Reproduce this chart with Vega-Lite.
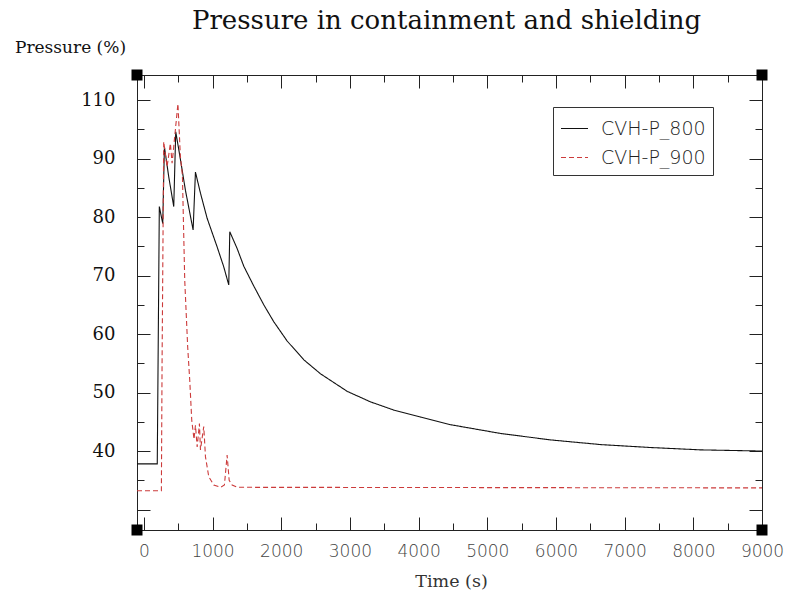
{
  "$schema": "https://vega.github.io/schema/vega-lite/v6.json",
  "width": 625,
  "height": 455,
  "autosize": "none",
  "padding": {"left": 137, "top": 75, "right": 25, "bottom": 64},
  "background": "white",
  "title": {
    "text": "Pressure in containment and shielding",
    "font": "DejaVu Serif",
    "fontSize": 26,
    "fontWeight": "normal",
    "color": "#111111",
    "anchor": "middle",
    "dx": -3,
    "offset": 4
  },
  "datasets": {
    "curves": [
      {"series": "CVH-P_800", "t": -100, "p": 37.8},
      {"series": "CVH-P_800", "t": 195, "p": 37.8},
      {"series": "CVH-P_800", "t": 225, "p": 81.8},
      {"series": "CVH-P_800", "t": 275, "p": 78.9},
      {"series": "CVH-P_800", "t": 299, "p": 92.0},
      {"series": "CVH-P_800", "t": 362, "p": 86.9},
      {"series": "CVH-P_800", "t": 435, "p": 81.8},
      {"series": "CVH-P_800", "t": 464, "p": 94.6},
      {"series": "CVH-P_800", "t": 522, "p": 90.6},
      {"series": "CVH-P_800", "t": 605, "p": 84.6},
      {"series": "CVH-P_800", "t": 717, "p": 77.8},
      {"series": "CVH-P_800", "t": 751, "p": 87.7},
      {"series": "CVH-P_800", "t": 824, "p": 84.1},
      {"series": "CVH-P_800", "t": 921, "p": 79.8},
      {"series": "CVH-P_800", "t": 1067, "p": 74.9},
      {"series": "CVH-P_800", "t": 1163, "p": 71.5},
      {"series": "CVH-P_800", "t": 1236, "p": 68.4},
      {"series": "CVH-P_800", "t": 1251, "p": 77.5},
      {"series": "CVH-P_800", "t": 1359, "p": 74.6},
      {"series": "CVH-P_800", "t": 1455, "p": 71.6},
      {"series": "CVH-P_800", "t": 1601, "p": 68.2},
      {"series": "CVH-P_800", "t": 1746, "p": 65.0},
      {"series": "CVH-P_800", "t": 1892, "p": 62.1},
      {"series": "CVH-P_800", "t": 2087, "p": 58.8},
      {"series": "CVH-P_800", "t": 2329, "p": 55.6},
      {"series": "CVH-P_800", "t": 2573, "p": 53.2},
      {"series": "CVH-P_800", "t": 2962, "p": 50.2},
      {"series": "CVH-P_800", "t": 3302, "p": 48.4},
      {"series": "CVH-P_800", "t": 3641, "p": 47.0},
      {"series": "CVH-P_800", "t": 4031, "p": 45.8},
      {"series": "CVH-P_800", "t": 4468, "p": 44.5},
      {"series": "CVH-P_800", "t": 5197, "p": 43.0},
      {"series": "CVH-P_800", "t": 5926, "p": 41.9},
      {"series": "CVH-P_800", "t": 6655, "p": 41.1},
      {"series": "CVH-P_800", "t": 7383, "p": 40.6},
      {"series": "CVH-P_800", "t": 8112, "p": 40.2},
      {"series": "CVH-P_800", "t": 9000, "p": 40.0},
      {"series": "CVH-P_900", "t": -100, "p": 33.2},
      {"series": "CVH-P_900", "t": 255, "p": 33.2},
      {"series": "CVH-P_900", "t": 265, "p": 55.0},
      {"series": "CVH-P_900", "t": 289, "p": 92.9},
      {"series": "CVH-P_900", "t": 338, "p": 88.6},
      {"series": "CVH-P_900", "t": 386, "p": 92.6},
      {"series": "CVH-P_900", "t": 411, "p": 89.2},
      {"series": "CVH-P_900", "t": 496, "p": 99.4},
      {"series": "CVH-P_900", "t": 532, "p": 90.3},
      {"series": "CVH-P_900", "t": 561, "p": 87.2},
      {"series": "CVH-P_900", "t": 595, "p": 69.2},
      {"series": "CVH-P_900", "t": 638, "p": 57.8},
      {"series": "CVH-P_900", "t": 668, "p": 52.1},
      {"series": "CVH-P_900", "t": 697, "p": 45.3},
      {"series": "CVH-P_900", "t": 730, "p": 42.0},
      {"series": "CVH-P_900", "t": 751, "p": 44.4},
      {"series": "CVH-P_900", "t": 776, "p": 40.7},
      {"series": "CVH-P_900", "t": 809, "p": 44.7},
      {"series": "CVH-P_900", "t": 824, "p": 40.2},
      {"series": "CVH-P_900", "t": 872, "p": 44.2},
      {"series": "CVH-P_900", "t": 897, "p": 39.0},
      {"series": "CVH-P_900", "t": 945, "p": 35.6},
      {"series": "CVH-P_900", "t": 1017, "p": 34.2},
      {"series": "CVH-P_900", "t": 1115, "p": 33.8},
      {"series": "CVH-P_900", "t": 1173, "p": 34.2},
      {"series": "CVH-P_900", "t": 1212, "p": 39.3},
      {"series": "CVH-P_900", "t": 1242, "p": 35.0},
      {"series": "CVH-P_900", "t": 1285, "p": 34.2},
      {"series": "CVH-P_900", "t": 1359, "p": 33.8},
      {"series": "CVH-P_900", "t": 9000, "p": 33.7}
    ],
    "corners": [
      {"t": -100, "p": 26.5},
      {"t": 9000, "p": 26.5},
      {"t": -100, "p": 104.3},
      {"t": 9000, "p": 104.3}
    ]
  },
  "layer": [
    {
      "data": {"name": "curves"},
      "mark": {"type": "line", "strokeWidth": 1.1, "clip": true},
      "encoding": {
        "x": {
          "field": "t", "type": "quantitative",
          "scale": {"domain": [-100, 9000], "nice": false, "zero": false},
          "axis": {
            "orient": "bottom",
            "values": [0,500,1000,1500,2000,2500,3000,3500,4000,4500,5000,5500,6000,6500,7000,7500,8000,8500,9000],
            "labelExpr": "datum.value % 1000 === 0 ? format(datum.value, 'd') : ''",
            "tickSize": -13,
            "tickDash": {"condition": {"test": "datum.value % 1000 === 0", "value": [40, 1]}, "value": [7, 40]},
            "labelPadding": 26,
            "title": "Time (s)",
            "titleX": 314,
            "titleY": 56,
            "titleBaseline": "alphabetic",
            "titleFont": "DejaVu Serif",
            "titleFontSize": 17.5,
            "titleFontWeight": "normal",
            "titleColor": "#333333",
            "labelFont": "DejaVu Sans",
            "labelFontSize": 17,
            "labelFontWeight": 300,
            "labelColor": "#444444"
          }
        },
        "y": {
          "field": "p", "type": "quantitative",
          "scale": {"domain": [26.5, 104.3], "nice": false, "zero": false},
          "axis": {
            "orient": "left",
            "values": [30,35,40,45,50,55,60,65,70,75,80,85,90,95,100],
            "labelExpr": "datum.value === 100 ? '110' : (datum.value % 10 === 0 && datum.value >= 40 ? datum.label : '')",
            "tickSize": -13,
            "tickDash": {"condition": {"test": "datum.value % 10 === 0", "value": [40, 1]}, "value": [7, 40]},
            "labelPadding": 35,
            "title": "Pressure (%)",
            "titleAngle": 0,
            "titleAlign": "center",
            "titleBaseline": "alphabetic",
            "titleX": -67,
            "titleY": -23,
            "titleFont": "DejaVu Serif",
            "titleFontSize": 17,
            "titleFontWeight": "normal",
            "titleColor": "#111111",
            "labelFont": "DejaVu Serif",
            "labelFontSize": 18,
            "labelColor": "#111111"
          }
        },
        "color": {
          "field": "series", "type": "nominal",
          "scale": {"domain": ["CVH-P_800", "CVH-P_900"], "range": ["#111111", "#cc3b3b"]}
        },
        "strokeDash": {
          "field": "series", "type": "nominal",
          "scale": {"domain": ["CVH-P_800", "CVH-P_900"], "range": [[1, 0], [5, 3]]}
        }
      }
    },
    {
      "data": {"name": "corners"},
      "mark": {"type": "point", "shape": "square", "filled": true, "color": "#000000", "opacity": 1, "size": 121, "clip": false},
      "encoding": {
        "x": {
          "field": "t", "type": "quantitative",
          "axis": {
            "orient": "top",
            "values": [0,500,1000,1500,2000,2500,3000,3500,4000,4500,5000,5500,6000,6500,7000,7500,8000,8500,9000],
            "labels": false,
            "title": null,
            "tickSize": -13,
            "tickDash": {"condition": {"test": "datum.value % 1000 === 0", "value": [40, 1]}, "value": [7, 40]}
          }
        },
        "y": {
          "field": "p", "type": "quantitative",
          "axis": {
            "orient": "right",
            "values": [30,35,40,45,50,55,60,65,70,75,80,85,90,95,100],
            "labels": false,
            "title": null,
            "tickSize": -13,
            "tickDash": {"condition": {"test": "datum.value % 10 === 0", "value": [40, 1]}, "value": [7, 40]}
          }
        }
      }
    }
  ],
  "resolve": {"axis": {"x": "independent", "y": "independent"}},
  "config": {
    "view": {"stroke": null},
    "axis": {
      "domainColor": "#222222",
      "domainWidth": 1,
      "tickColor": "#222222",
      "tickWidth": 1,
      "grid": false,
      "labelFlush": false,
      "labelOverlap": false
    },
    "legend": {
      "orient": "none",
      "legendX": 416,
      "legendY": 32,
      "title": null,
      "strokeColor": "#333333",
      "fillColor": "#ffffff",
      "padding": 7,
      "symbolType": "stroke",
      "symbolSize": 729,
      "symbolStrokeWidth": 1.2,
      "labelFont": "DejaVu Sans",
      "labelFontSize": 19,
      "labelFontWeight": 300,
      "labelColor": "#222222",
      "labelOffset": 12,
      "rowPadding": 4
    }
  }
}
